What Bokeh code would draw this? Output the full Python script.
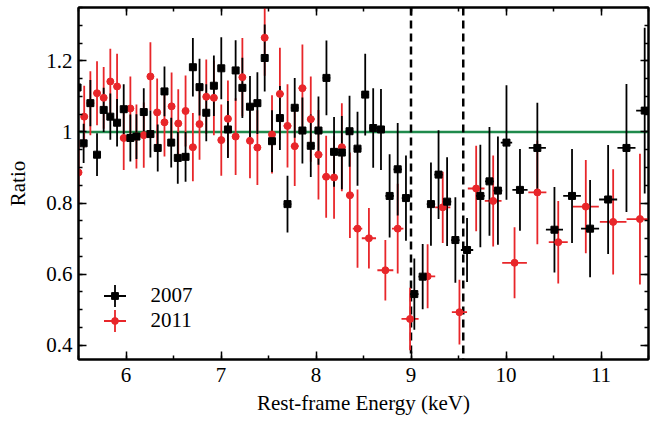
from bokeh.plotting import figure
from bokeh.models import (ColumnDataSource, Range1d, Span, LinearAxis, SingleIntervalTicker,
                          CustomJSTickFormatter, Legend, LegendItem)
from bokeh.embed import file_html
from bokeh.resources import INLINE
import numpy as np

# ---- 2007 data (black squares) ----
x2007 = [5.49, 5.554, 5.625, 5.695, 5.765, 5.835, 5.906, 5.976, 6.046, 6.11,
         6.187, 6.257, 6.334, 6.405, 6.476, 6.545, 6.627, 6.704, 6.774, 6.845,
         6.925, 7.003, 7.073, 7.154, 7.225, 7.305, 7.383, 7.46, 7.537,
         7.62, 7.70, 7.776, 7.857, 7.945, 8.026, 8.11, 8.19, 8.272, 8.353,
         8.437, 8.518, 8.602, 8.684,
         8.775, 8.86, 8.947, 9.035, 9.123, 9.21, 9.29, 9.38, 9.467,
         9.59, 9.73, 9.826, 9.915, 10.005,
         10.147, 10.33, 10.51, 10.695, 10.885, 11.075, 11.268, 11.46]
y2007 = [1.125, 0.968, 1.081, 0.936, 1.062, 1.043, 1.026, 1.064, 0.983, 0.987,
         1.056, 0.994, 0.955, 1.114, 0.970, 0.927, 0.930, 1.182, 1.126, 1.054,
         1.130, 1.179, 1.007, 1.173, 1.124, 1.071, 1.081, 1.208, 0.974,
         1.039, 0.797, 1.068, 1.004, 0.961, 1.004, 1.152, 0.944, 0.942, 1.002,
         0.953, 1.105, 1.011, 1.007,
         0.820, 0.895, 0.814, 0.544, 0.593, 0.797, 0.880, 0.804, 0.696,
         0.668, 0.820, 0.861, 0.835, 0.970,
         0.837, 0.955, 0.725, 0.820, 0.728, 0.810, 0.955, 1.060]
yerr2007 = [0.07, 0.055, 0.065, 0.06, 0.062, 0.065, 0.067, 0.07, 0.066, 0.063,
            0.067, 0.066, 0.066, 0.07, 0.07, 0.073, 0.07, 0.082, 0.08, 0.08,
            0.085, 0.087, 0.08, 0.085, 0.085, 0.086, 0.087, 0.094, 0.087,
            0.09, 0.08, 0.084, 0.093, 0.088, 0.096, 0.105, 0.098, 0.103, 0.1,
            0.104, 0.115, 0.112, 0.114,
            0.117, 0.13, 0.12, 0.1, 0.092, 0.117, 0.125, 0.125, 0.12,
            0.09, 0.144, 0.153, 0.152, 0.161,
            0.115, 0.127, 0.12, 0.132, 0.137, 0.153, 0.18, 0.233]
xerr2007 = [0.035] * 29 + [0.04] * 14 + [0.044] * 9 + \
           [0.065, 0.046, 0.046, 0.046, 0.06,
            0.08, 0.09, 0.09, 0.093, 0.095, 0.095, 0.095, 0.09]

# ---- 2011 data (red circles) ----
x2011 = [5.50, 5.56, 5.625, 5.695, 5.765, 5.835, 5.906, 5.976, 6.046, 6.11,
         6.187, 6.257, 6.328, 6.405, 6.48, 6.55, 6.627, 6.704, 6.774, 6.845,
         6.925, 7.003, 7.073, 7.154, 7.225, 7.305, 7.383, 7.46, 7.537,
         7.62, 7.70, 7.776, 7.857, 7.945, 8.026, 8.107, 8.19, 8.272, 8.357,
         8.437, 8.557, 8.73, 8.86, 8.99, 9.175, 9.334, 9.51, 9.686, 9.865,
         10.09, 10.33, 10.55, 10.84, 11.128, 11.41]
y2011 = [0.886, 1.043, 1.081, 1.109, 1.096, 1.142, 1.128, 0.983, 1.066, 0.987,
         0.991, 1.156, 1.055, 1.027, 1.072, 1.024, 1.059, 0.957, 1.022, 1.099,
         1.096, 0.977, 1.037, 0.987, 1.154, 0.975, 0.956, 1.265, 0.993,
         1.107, 1.017, 0.96, 1.123, 1.036, 0.936, 0.874, 0.872, 0.957, 0.822,
         0.728, 0.701, 0.611, 0.728, 0.474, 0.594, 0.788, 0.493, 0.841, 0.806,
         0.632, 0.83, 0.69, 0.79, 0.747, 0.755]
yerr2011 = [0.09, 0.087, 0.09, 0.09, 0.087, 0.092, 0.092, 0.09, 0.09, 0.09,
            0.092, 0.096, 0.095, 0.096, 0.095, 0.096, 0.1, 0.096, 0.1, 0.105,
            0.105, 0.1, 0.108, 0.108, 0.11, 0.105, 0.105, 0.107, 0.11,
            0.13, 0.117, 0.112, 0.123, 0.12, 0.126, 0.115, 0.116, 0.124, 0.12,
            0.11, 0.085, 0.085, 0.126, 0.088, 0.09, 0.1, 0.091, 0.12, 0.128,
            0.1, 0.146, 0.116, 0.131, 0.148, 0.184]
xerr2011 = [0.035] * 29 + [0.04] * 10 + \
           [0.05, 0.075, 0.084, 0.06, 0.09, 0.08, 0.08, 0.08, 0.088, 0.088,
            0.13, 0.095, 0.1, 0.137, 0.14, 0.14]

line_energies = [9.0, 9.55]
ratio_ref = 1.0
series_labels = ["2007", "2011"]

BLACK = "#000000"
RED = "#e8262a"
GREEN = "#1f8a4c"
FONT = "Liberation Serif"


def make_src(x, y, xe, ye):
    x = np.array(x); y = np.array(y); xe = np.array(xe); ye = np.array(ye)
    return ColumnDataSource(dict(x=x, y=y, xlo=x - xe, xhi=x + xe, ylo=y - ye, yhi=y + ye))


src07 = make_src(x2007, y2007, xerr2007, yerr2007)
src11 = make_src(x2011, y2011, xerr2011, yerr2011)

p = figure(width=659, height=422, output_backend="svg", toolbar_location=None,
           x_range=Range1d(5.5, 11.5), y_range=Range1d(0.36, 1.35),
           min_border_left=78, min_border_right=11, min_border_top=7, min_border_bottom=63)
p.grid.visible = False
p.outline_line_color = "black"
p.outline_line_width = 2
p.background_fill_color = "white"
p.border_fill_color = "white"

xticker = SingleIntervalTicker(interval=1, num_minor_ticks=2)
yticker = SingleIntervalTicker(interval=0.2, num_minor_ticks=4)
fmt_code = "const s = tick.toFixed(1); return s.endsWith('.0') ? s.slice(0, -2) : s;"


def style_axis(ax):
    ax.axis_line_width = 2
    ax.major_tick_in = 8
    ax.major_tick_out = 0
    ax.minor_tick_in = 4
    ax.minor_tick_out = 0
    ax.major_tick_line_width = 1.5
    ax.minor_tick_line_width = 1.5
    ax.major_label_text_font = FONT
    ax.major_label_text_font_size = "21px"
    ax.major_label_text_color = "black"
    ax.axis_label_text_font = FONT
    ax.axis_label_text_font_size = "21px"
    ax.axis_label_text_font_style = "normal"
    ax.axis_label_text_color = "black"


xa = p.xaxis[0]
xa.ticker = xticker
xa.formatter = CustomJSTickFormatter(code=fmt_code)
style_axis(xa)
xa.axis_label = "Rest-frame Energy (keV)"
xa.major_label_standoff = 8
xa.axis_label_standoff = 6

ya = p.yaxis[0]
ya.ticker = yticker
ya.formatter = CustomJSTickFormatter(code=fmt_code)
style_axis(ya)
ya.axis_label = "Ratio"
ya.major_label_standoff = 6
ya.axis_label_standoff = 13

for loc, tk in (("above", xticker), ("right", yticker)):
    ax = LinearAxis(ticker=tk, formatter=CustomJSTickFormatter(code="return '';"))
    style_axis(ax)
    ax.major_label_text_font_size = "1px"
    ax.major_label_standoff = 0
    p.add_layout(ax, loc)

# reference lines
p.add_layout(Span(location=ratio_ref, dimension="width", line_color=GREEN,
                  line_width=2.5, level="underlay"))
for e in line_energies:
    p.add_layout(Span(location=e, dimension="height", line_color="black",
                      line_width=2.5, line_dash="8 5", level="underlay"))

# error bars
p.segment(x0="x", y0="ylo", x1="x", y1="yhi", source=src11, line_color=RED, line_width=1.8)
p.segment(x0="xlo", y0="y", x1="xhi", y1="y", source=src11, line_color=RED, line_width=1.8)
p.segment(x0="x", y0="ylo", x1="x", y1="yhi", source=src07, line_color=BLACK, line_width=1.8)
p.segment(x0="xlo", y0="y", x1="xhi", y1="y", source=src07, line_color=BLACK, line_width=1.8)

r11 = p.scatter("x", "y", source=src11, marker="circle", size=7, fill_color=RED, line_color=RED)
r07 = p.scatter("x", "y", source=src07, marker="square", size=7, fill_color=BLACK, line_color=BLACK)

# legend-only cross glyphs (error-bar symbol); zero size on the plot itself
c07 = p.scatter("x", "y", source=src07, marker="cross", size=0, line_color=BLACK, line_width=1.8)
c11 = p.scatter("x", "y", source=src11, marker="cross", size=0, line_color=RED, line_width=1.8)

for rend, vy in ((c07, 36.5), (c11, 11.5)):
    lg = Legend(items=[LegendItem(label=" ", renderers=[rend])], location=(8.5, vy),
                glyph_width=55, glyph_height=55, label_width=0, label_height=0,
                label_standoff=0, padding=0, margin=0, spacing=0,
                label_text_font_size="1px", border_line_alpha=0, background_fill_alpha=0)
    p.add_layout(lg, "center")

leg = Legend(items=[LegendItem(label=series_labels[0], renderers=[r07]),
                    LegendItem(label=series_labels[1], renderers=[r11])],
             location=(27.5, 26.5), glyph_width=17, glyph_height=25, label_height=25,
             label_standoff=28, padding=0, margin=0, spacing=0,
             label_text_font=FONT, label_text_font_size="21px", label_text_color="black",
             border_line_alpha=0, background_fill_alpha=0)
p.add_layout(leg, "center")

open("out.html", "w").write(file_html(p, INLINE))
